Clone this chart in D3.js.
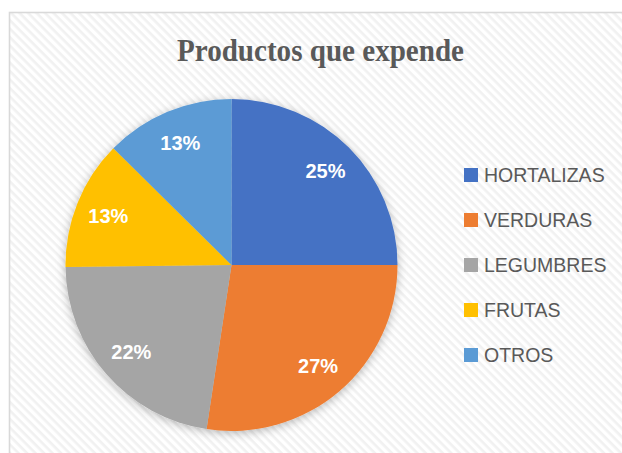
<!DOCTYPE html>
<html>
<head>
<meta charset="utf-8">
<script src="https://cdn.jsdelivr.net/npm/d3@7"></script>
<style>
  html, body { margin: 0; padding: 0; background: #fff; }
  svg { display: block; }
</style>
</head>
<body>
<svg width="622" height="453"></svg>
<script>
const categories = ["HORTALIZAS", "VERDURAS", "LEGUMBRES", "FRUTAS", "OTROS"];
const shares = [25, 27.4, 22.4, 12.6, 12.6];
const labels = ["25%", "27%", "22%", "13%", "13%"];
const colors = ["#4472C4", "#ED7D31", "#A5A5A5", "#FFC000", "#5B9BD5"];
const title = "Productos que expende";

const svg = d3.select("svg");
const defs = svg.append("defs");

// diagonal stripes for the chart area
let pat = defs.append("pattern").attr("id", "stripes")
    .attr("patternUnits", "userSpaceOnUse")
    .attr("width", 6).attr("height", 6)
    .attr("patternTransform", "rotate(45)");
pat.append("rect").attr("width", 6).attr("height", 6).attr("fill", "#ffffff");
pat.append("rect").attr("width", 6).attr("height", 2.6).attr("fill", "#f1f1f1");

let shadow = defs.append("filter").attr("id", "shadow")
    .attr("x", "-20%").attr("y", "-20%").attr("width", "140%").attr("height", "140%");
shadow.append("feDropShadow").attr("dx", 0).attr("dy", 2)
    .attr("stdDeviation", 5).attr("flood-color", "#000").attr("flood-opacity", 0.28);

// chart area
svg.append("rect")
    .attr("x", 9.5).attr("y", 12.5)
    .attr("width", 700).attr("height", 500)
    .attr("fill", "url(#stripes)")
    .attr("stroke", "#d9d9d9").attr("stroke-width", 1.6);

svg.append("text")
    .attr("x", 320.5).attr("y", 61)
    .attr("text-anchor", "middle")
    .attr("font-family", "'Liberation Serif', 'Times New Roman', serif")
    .attr("font-weight", "bold")
    .attr("font-size", 31)
    .attr("textLength", 287)
    .attr("lengthAdjust", "spacingAndGlyphs")
    .attr("fill", "#595959")
    .text(title);

const cx = 231.5, cy = 265, radius = 166;

const pie = d3.pie().sort(null).value(d => d);
const arcs = pie(shares);
const arc = d3.arc().innerRadius(0).outerRadius(radius);
const labelArc = d3.arc().innerRadius(radius * 0.8).outerRadius(radius * 0.8);

let pieGroup = svg.append("g").attr("transform", "translate(" + cx + "," + cy + ")");

pieGroup.append("g").attr("filter", "url(#shadow)")
    .selectAll("path")
    .data(arcs).enter()
    .append("path")
    .attr("d", arc)
    .attr("fill", (d, i) => colors[i]);

pieGroup.selectAll(".lbl")
    .data(arcs).enter()
    .append("text")
    .attr("class", "lbl")
    .attr("transform", d => "translate(" + labelArc.centroid(d) + ")")
    .attr("text-anchor", "middle")
    .attr("dy", "0.36em")
    .attr("font-family", "'Liberation Sans', Arial, sans-serif")
    .attr("font-weight", "bold")
    .attr("font-size", 20)
    .attr("fill", "#ffffff")
    .text((d, i) => labels[i]);

// legend
const legendY = d3.scalePoint().domain(categories).range([175, 355]);

let legend = svg.append("g");
let items = legend.selectAll("g")
    .data(categories).enter()
    .append("g")
    .attr("transform", d => "translate(464," + legendY(d) + ")");

items.append("rect")
    .attr("x", 0).attr("y", -7)
    .attr("width", 14).attr("height", 14)
    .attr("fill", (d, i) => colors[i]);

items.append("text")
    .attr("x", 20).attr("y", 7)
    .attr("font-family", "'Liberation Sans', Arial, sans-serif")
    .attr("font-size", 19.5)
    .attr("fill", "#595959")
    .text(d => d);
</script>
</body>
</html>
